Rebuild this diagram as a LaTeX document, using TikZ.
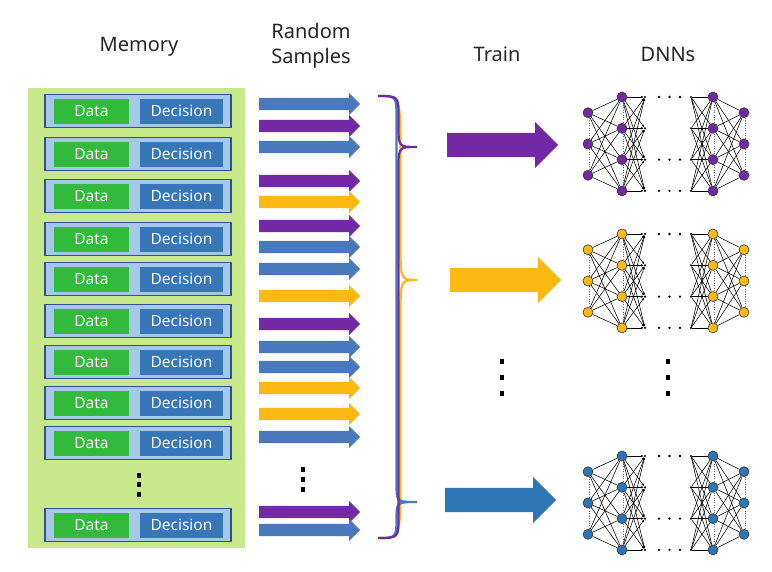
\documentclass[tikz,border=0pt]{standalone}
\usepackage{fontspec}
\setmainfont{Noto Sans}
\usetikzlibrary{shapes.arrows,arrows.meta}

\definecolor{memgreen}{RGB}{200,232,140}
\definecolor{rowblue}{RGB}{166,200,232}
\definecolor{rowline}{RGB}{47,82,143}
\definecolor{datagreen}{RGB}{50,186,60}
\definecolor{decblue}{RGB}{55,118,185}
\definecolor{smpblue}{RGB}{74,120,188}
\definecolor{smppurple}{RGB}{115,40,165}
\definecolor{smpyellow}{RGB}{253,185,19}
\definecolor{bigblue}{RGB}{46,117,182}

% three square dots in a column: x, y of first dot, gap
\newcommand\dotcol[3]{%
  \foreach \d in {0,1,2} \fill (#1-2,#2+\d*#3-2.5) rectangle (#1+2,#2+\d*#3+2.5);}

% brace: colour, x of spine, y of tip, end radius, tip radius
\newcommand\samplebrace[5]{%
  \draw[#1,line width=2.2pt] (378,96) .. controls (#2,96) .. (#2,96+#4)
    -- (#2,#3-#5) .. controls (#2,#3) .. (417,#3) .. controls (#2,#3) .. (#2,#3+#5)
    -- (#2,538-#4) .. controls (#2,538) .. (378,538);}

\begin{document}
\begin{tikzpicture}[x=1pt,y=-1pt,font=\fontsize{20}{25}\selectfont,text=black!85,
  row/.style={draw=rowline,line width=1.2pt,fill=rowblue,minimum width=186pt,minimum height=33pt},
  databox/.style={fill=datagreen,text=white,minimum width=75pt,minimum height=25pt,inner sep=0pt,font=\fontsize{15.5}{18}\selectfont},
  decbox/.style={databox,fill=decblue,minimum width=83pt},
  sample/.style={single arrow,anchor=tail,inner sep=0pt,text height=12pt,text depth=0pt,single arrow head extend=5pt,minimum width=22pt,minimum height=101pt},
  trainarrow/.style={single arrow,anchor=tail,inner sep=0pt,text height=24pt,text depth=0pt,single arrow head extend=11pt,minimum width=46pt,minimum height=111pt},
  neuron/.style={circle,draw=black!80,line width=0.6pt,inner sep=0pt,minimum size=10pt},
  pt/.style={circle,fill=black,inner sep=0pt,minimum size=2.4pt},
  edge/.style={black,line width=0.55pt},
  vdot/.style={dotted,line width=0.45pt,black!60}]
\useasboundingbox (0,0) rectangle (772,571);

% headers
\node (hmem) at (139,47) {Memory};
\node[align=center] (hsmp) at (311,45.5) {Random\\Samples};
\node (htrain) at (497,54) {Train};
\node (hdnn) at (668,54) {DNNs};

% memory
\node[fill=memgreen,minimum width=217pt,minimum height=460pt] (mem) at (136.5,318) {};
\foreach \y [count=\i] in {111,154,196,239,279,321,362,403,443,525} {
  \node[row] (r\i) at (138,\y) {};
  \node[databox] (d\i) at (91.5,\y) {Data};
  \node[decbox] (c\i) at (181.5,\y) {Decision};
}
\dotcol{139}{475}{9.5}

% random samples
\foreach \y/\c [count=\i] in {104/smpblue,126/smppurple,147/smpblue,181/smppurple,
    202/smpyellow,226/smppurple,247/smpblue,269/smpblue,296/smpyellow,324/smppurple,
    347/smpblue,367/smpblue,388/smpyellow,414/smpyellow,437/smpblue,512/smppurple,530/smpblue}
  \node[sample,fill=\c] (s\i) at (259,\y) {};
\dotcol{303}{469}{10}

% braces
\samplebrace{smpyellow}{400.5}{280}{60}{36}
\samplebrace{smpblue}{396.5}{502}{22}{18}
\samplebrace{smppurple}{398.5}{147}{22}{22}

% train
\node[trainarrow,fill=smppurple] (t1) at (447,145) {};
\node[trainarrow,fill=smpyellow] (t2) at (450,280) {};
\node[trainarrow,fill=bigblue] (t3) at (445,500) {};
\dotcol{502}{361}{16}

% DNNs
\foreach \nt/\oy/\nc in {a/0/smppurple,b/137/smpyellow,c/359/bigblue} {
  \foreach \k in {1,2,3} {
    \node[neuron,fill=\nc] (\nt i\k) at (588,97+\oy+15.7+31.3*\k-31.3) {};
    \node[neuron,fill=\nc] (\nt o\k) at (744,97+\oy+15.7+31.3*\k-31.3) {};
  }
  \foreach \k in {1,...,4} {
    \node[neuron,fill=\nc] (\nt h\k) at (622,97+\oy+31.3*\k-31.3) {};
    \node[neuron,fill=\nc] (\nt g\k) at (713,97+\oy+31.3*\k-31.3) {};
    \node[pt] (\nt p\k) at (645,97+\oy+31.3*\k-31.3) {};
    \node[pt] (\nt q\k) at (691,97+\oy+31.3*\k-31.3) {};
  }
  \foreach \a in {1,2,3}
    \foreach \b in {1,...,4} {
      \draw[edge] (\nt i\a) -- (\nt h\b);
      \draw[edge] (\nt g\b) -- (\nt o\a);
    }
  \foreach \a in {1,...,4}
    \foreach \b in {1,...,4} {
      \draw[edge,-{Latex[length=2.5pt,width=2.5pt]}] (\nt h\a) -- (\nt p\b);
      \draw[edge] (\nt q\a) -- (\nt g\b);
    }
  % dotted columns inside the layers
  \foreach \k [count=\kk from 2] in {1,2} {
    \draw[vdot] ([xshift=1.5pt]\nt i\k.south) -- ([xshift=1.5pt]\nt i\kk.north);
    \draw[vdot] ([xshift=1.5pt]\nt o\k.south) -- ([xshift=1.5pt]\nt o\kk.north);
  }
  \foreach \k [count=\kk from 2] in {1,2,3} {
    \draw[vdot] ([xshift=1.5pt]\nt h\k.south) -- ([xshift=1.5pt]\nt h\kk.north);
    \draw[vdot] ([xshift=1.5pt]\nt g\k.south) -- ([xshift=1.5pt]\nt g\kk.north);
  }
  % dots between the hidden layers
  \foreach \r in {1,3,4}
    \foreach \dx in {0,10.5,21}
      \fill (659+\dx,97+\oy+31.3*\r-31.3) circle (1.3pt);
}
\dotcol{668}{361}{16}
\end{tikzpicture}
\end{document}
